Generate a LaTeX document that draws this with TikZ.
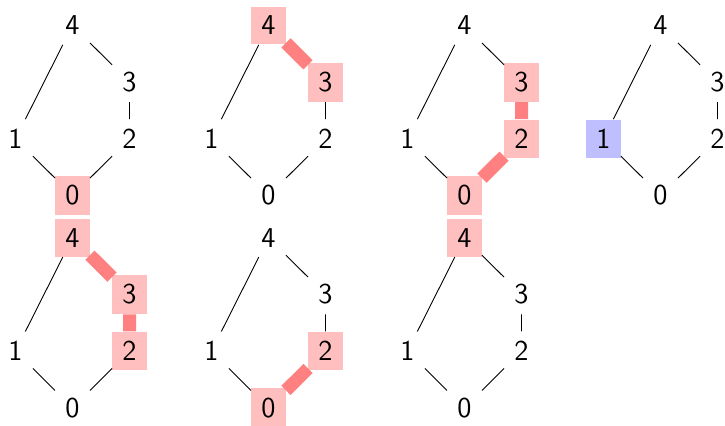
\documentclass[tikz,border=0pt]{standalone}
\begin{document}
\begin{tikzpicture}[x=0.5pt,y=-0.5pt,
  v/.style={inner xsep=5pt,inner ysep=4.75pt,font=\sffamily\Large},
  hot/.style={v,fill=red!25},
  cold/.style={v,fill=blue!25},
  e/.style={line width=0.45pt},
  he/.style={line width=6.5pt,draw=red!50}]
\useasboundingbox (0,0) rectangle (725,425);
\newcommand\latnodes[7]{%
  \begin{scope}[shift={(#2,#3)}]
    \node[#4] (#1-0) at (0,0) {0};
    \node[#5] (#1-1) at (-57,-56.7) {1};
    \node[#6] (#1-2) at (57,-56.7) {2};
    \node[#7] (#1-3) at (57,-113.3) {3};
  \end{scope}}
\newcommand\topnode[4]{\node[#4] (#1-4) at (#2,#3-170) {4};}
% panel A (row 0, col 0)
\latnodes{A}{72.5}{195.5}{hot}{v}{v}{v}\topnode{A}{72.5}{195.5}{v}
\draw[e] (A-0)--(A-1) (A-0)--(A-2) (A-2)--(A-3) (A-3)--(A-4) (A-1)--(A-4);
% panel B
\latnodes{B}{268.5}{195.5}{v}{v}{v}{hot}\topnode{B}{268.5}{195.5}{hot}
\draw[e] (B-0)--(B-1) (B-0)--(B-2) (B-2)--(B-3) (B-1)--(B-4);
\draw[he] (B-3)--(B-4);
% panel C
\latnodes{C}{464.5}{195.5}{hot}{v}{hot}{hot}\topnode{C}{464.5}{195.5}{v}
\draw[e] (C-0)--(C-1) (C-3)--(C-4) (C-1)--(C-4);
\draw[he] (C-0)--(C-2) (C-2)--(C-3);
% panel D
\latnodes{D}{660.5}{195.5}{v}{cold}{v}{v}\topnode{D}{660.5}{195.5}{v}
\draw[e] (D-0)--(D-1) (D-0)--(D-2) (D-2)--(D-3) (D-3)--(D-4) (D-1)--(D-4);
% panel E (row 1, col 0)
\latnodes{E}{72.5}{407.8}{v}{v}{hot}{hot}\topnode{E}{72.5}{407.8}{hot}
\draw[e] (E-0)--(E-1) (E-0)--(E-2) (E-1)--(E-4);
\draw[he] (E-2)--(E-3) (E-3)--(E-4);
% panel F
\latnodes{F}{268.5}{407.8}{hot}{v}{hot}{v}\topnode{F}{268.5}{407.8}{v}
\draw[e] (F-0)--(F-1) (F-2)--(F-3) (F-3)--(F-4) (F-1)--(F-4);
\draw[he] (F-0)--(F-2);
% panel G
\latnodes{G}{464.5}{407.8}{v}{v}{v}{v}\topnode{G}{464.5}{407.8}{hot}
\draw[e] (G-0)--(G-1) (G-0)--(G-2) (G-2)--(G-3) (G-3)--(G-4) (G-1)--(G-4);
\end{tikzpicture}
\end{document}
